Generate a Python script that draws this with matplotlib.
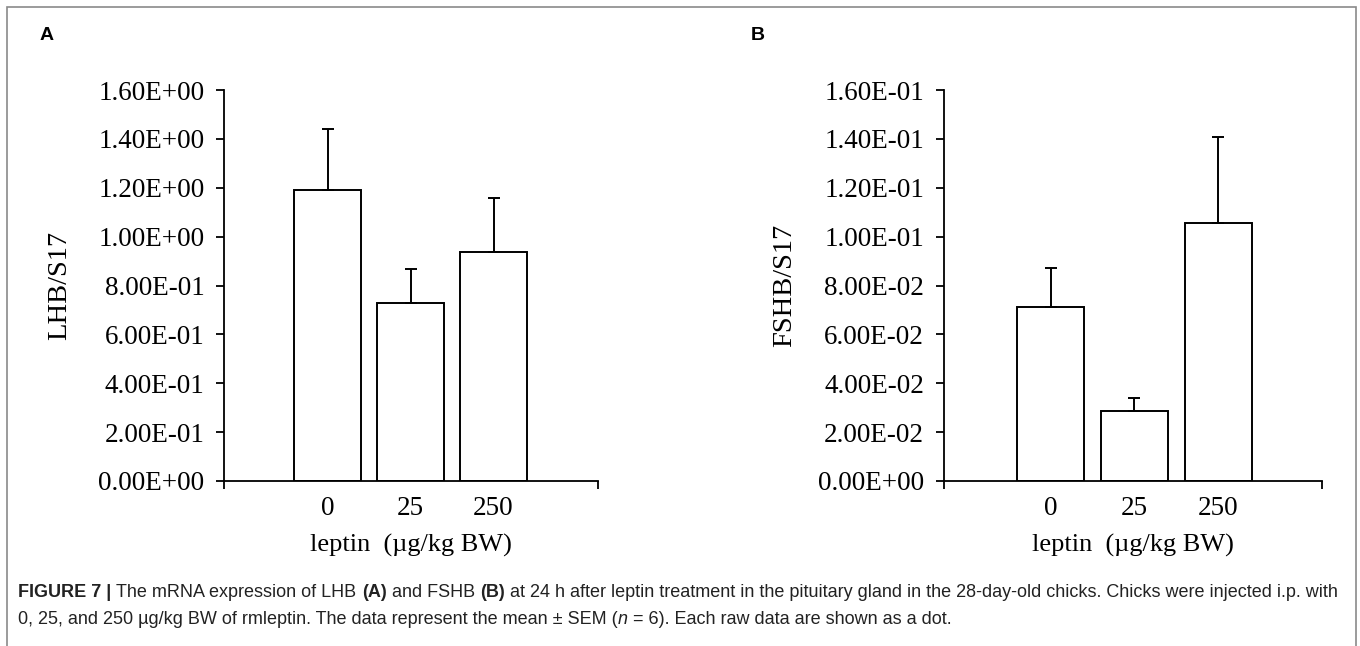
import matplotlib.pyplot as plt
from matplotlib.patches import Rectangle

# data
doses = ["0", "25", "250"]
lhb_mean = [1.19, 0.727, 0.936]
lhb_sem = [0.25, 0.139, 0.223]
fshb_mean = [0.0711, 0.0288, 0.1057]
fshb_sem = [0.0162, 0.0050, 0.0352]

lhb_ticks = [0.0, 0.2, 0.4, 0.6, 0.8, 1.0, 1.2, 1.4, 1.6]
lhb_ticklabels = ["0.00E+00", "2.00E-01", "4.00E-01", "6.00E-01", "8.00E-01",
                  "1.00E+00", "1.20E+00", "1.40E+00", "1.60E+00"]
fshb_ticks = [0.0, 0.02, 0.04, 0.06, 0.08, 0.10, 0.12, 0.14, 0.16]
fshb_ticklabels = ["0.00E+00", "2.00E-02", "4.00E-02", "6.00E-02", "8.00E-02",
                   "1.00E-01", "1.20E-01", "1.40E-01", "1.60E-01"]

serif = "Liberation Serif"
sans = "Liberation Sans"
W, H = 1360, 646

fig = plt.figure(figsize=(13.6, 6.46), dpi=100)

# outer frame
fig.patches.append(Rectangle((7 / W, -0.01), 1349 / W, 1 - 7 / H + 0.01,
                             transform=fig.transFigure, fill=False,
                             edgecolor="#8a8a8a", linewidth=1.2))


def panel(rect, means, sems, ticks, ticklabels, ylabel, xlim, ypad):
    ax = fig.add_axes(rect)
    x = list(range(len(means)))
    ax.bar(x, means, width=0.8, color="white", edgecolor="black", linewidth=1.4)
    ax.errorbar(x, means, yerr=[[0] * len(sems), sems], fmt="none",
                ecolor="black", elinewidth=1.4, capsize=4, capthick=1.4)
    ax.set_xlim(*xlim)
    ax.set_ylim(ticks[0], ticks[-1])
    ax.set_yticks(ticks)
    ax.set_yticklabels(ticklabels, fontfamily=serif, fontsize=19.5)
    ax.set_xticks(x)
    ax.set_xticklabels(doses, fontfamily=serif, fontsize=19.5)
    ax.set_xticks(list(xlim), minor=True)
    ax.tick_params(axis="x", which="major", length=0, pad=11)
    ax.tick_params(axis="x", which="minor", length=6, width=1.3, direction="out")
    ax.tick_params(axis="y", length=6, width=1.3, direction="out", pad=8)
    for s in ["top", "right"]:
        ax.spines[s].set_visible(False)
    for s in ["left", "bottom"]:
        ax.spines[s].set_linewidth(1.3)
    ax.set_ylabel(ylabel, fontfamily=serif, fontsize=20.5, labelpad=ypad)
    ax.set_xlabel("leptin  (\u00b5g/kg BW)", fontfamily=serif, fontsize=19, labelpad=9)
    return ax


axA = panel([224 / W, 1 - 481 / H, 374 / W, 391 / H],
            lhb_mean, lhb_sem, lhb_ticks, lhb_ticklabels, "LHB/S17", (-1.25, 3.26), 19)
axB = panel([943.5 / W, 1 - 481 / H, 378.5 / W, 391 / H],
            fshb_mean, fshb_sem, fshb_ticks, fshb_ticklabels, "FSHB/S17", (-1.28, 3.24), 15)

fig.text(40 / W, 1 - 35 / H, "A", fontfamily=sans, fontweight="bold",
         fontsize=14, va="center", ha="left")
fig.text(751 / W, 1 - 35 / H, "B", fontfamily=sans, fontweight="bold",
         fontsize=14, va="center", ha="left")

# caption, pieces laid side by side on one baseline
line1 = [("FIGURE 7 | ", "bold", "normal"),
         ("The mRNA expression of LHB ", "normal", "normal"),
         ("(A)", "bold", "normal"),
         (" and FSHB ", "normal", "normal"),
         ("(B)", "bold", "normal"),
         (" at 24 h after leptin treatment in the pituitary gland in the 28-day-old chicks. "
          "Chicks were injected i.p. with", "normal", "normal")]
line2 = [("0, 25, and 250 \u00b5g/kg BW of rmleptin. The data represent the mean \u00b1 SEM (",
          "normal", "normal"),
         ("n", "normal", "italic"),
         (" = 6). Each raw data are shown as a dot.", "normal", "normal")]

cap_size = 13
renderer = fig.canvas.get_renderer()
for line, ybase in [(line1, 597), (line2, 624)]:
    xpix = 18
    for txt, weight, style in line:
        t = fig.text(xpix / W, 1 - ybase / H, txt, fontfamily=sans, fontsize=cap_size,
                     fontweight=weight, fontstyle=style, color="#222222",
                     va="baseline", ha="left")
        # spaces at the ends are not in the extent, so measure with a marker
        probe = fig.text(0, 0, txt.replace(" ", "\u00a0") + "|", fontfamily=sans,
                         fontsize=cap_size, fontweight=weight, fontstyle=style)
        bar = fig.text(0, 0, "|", fontfamily=sans, fontsize=cap_size,
                       fontweight=weight, fontstyle=style)
        wpx = probe.get_window_extent(renderer).width - bar.get_window_extent(renderer).width
        probe.remove()
        bar.remove()
        xpix += wpx

fig.savefig("out.png", dpi=100)
